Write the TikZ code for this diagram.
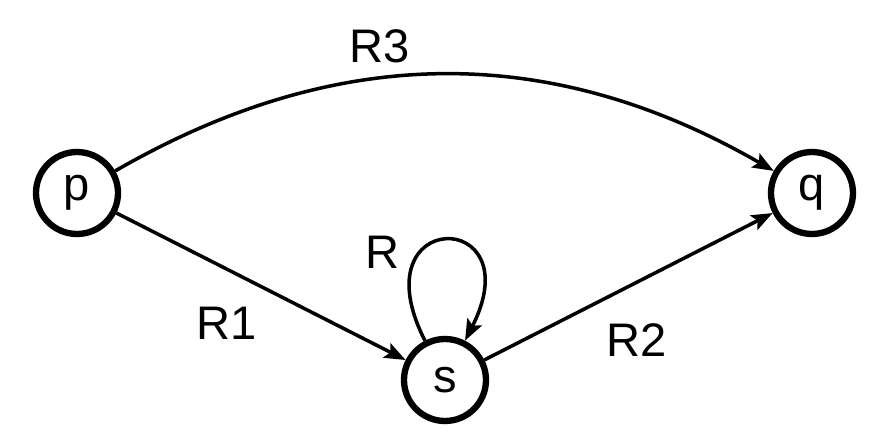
\documentclass[tikz,border=0pt]{standalone}
\usepackage{fontspec}
\setmainfont{Liberation Sans}
\usetikzlibrary{arrows.meta,automata,positioning}

\begin{document}
\begin{tikzpicture}[->,>={Stealth[length=6pt,width=4.6pt,inset=1.2pt]},auto,
                    line width=1pt, font=\fontsize{13.4}{16}\selectfont]
	  \tikzstyle{every state}=[fill=white,draw=black,text=black,line width=1.8pt,
	                           minimum size=0.82cm,inner sep=0pt]
	  \useasboundingbox (-0.77,-2.51) rectangle (8.02,1.93);

	  \node[state] 		   (p)                    	{p};
	  \node[state]         (q) [right of=p, node distance=7.35cm] 	{q};
	  \node[state]         (s) at (3.68,-1.87) 		{s};

	  % labels of the relations
	  \node (r3) at (3.03,1.47) {R3};
	  \node (r1) at (1.50,-1.30) {R1};
	  \node (r2) at (5.60,-1.47) {R2};
	  \node (r) at (3.06,-0.59) {R};

	  \path (p) edge[bend left=30] (q)
	  (p) edge (s)
	  (s) edge (q)
	  (s) edge[loop, out=117, in=63, min distance=1.5cm] (s);
	\end{tikzpicture}
\end{document}
